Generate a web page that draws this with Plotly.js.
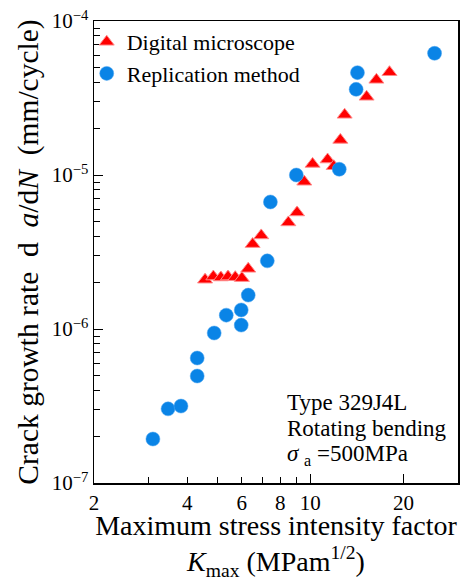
<!DOCTYPE html>
<html><head><meta charset="utf-8">
<script src="https://cdn.plot.ly/plotly-3.0.1.min.js"></script>
<style>body{margin:0;background:#fff}#c{width:464px;height:581px}</style>
</head><body><div id="c"></div>
<script>
// Digital microscope (triangles)
const digitalK = [4.57, 4.86, 5.14, 5.42, 5.72, 6.01, 6.30, 6.51, 6.94, 8.49, 9.06, 9.56, 10.17, 11.37, 11.9, 12.5, 12.91, 15.2, 16.35, 18.02];
const digitalRate = [2.09e-6, 2.19e-6, 2.16e-6, 2.19e-6, 2.17e-6, 2.14e-6, 2.46e-6, 3.56e-6, 4.05e-6, 4.92e-6, 5.71e-6, 9.04e-6, 1.18e-5, 1.26e-5, 1.14e-5, 1.69e-5, 2.46e-5, 3.22e-5, 4.15e-5, 4.65e-5];
// Replication method (circles)
const replicaK = [3.10, 3.47, 3.82, 4.31, 4.31, 4.89, 5.35, 5.98, 5.98, 6.30, 7.26, 7.43, 9.01, 12.4, 14.06, 14.2, 25.2];
const replicaRate = [1.93e-7, 3.03e-7, 3.16e-7, 4.95e-7, 6.48e-7, 9.42e-7, 1.23e-6, 1.06e-6, 1.33e-6, 1.66e-6, 2.77e-6, 6.68e-6, 1.0e-5, 1.09e-5, 3.60e-5, 4.62e-5, 6.17e-5];

const xTickVals = [2, 4, 6, 8, 10, 20];
const xTickText = ['2', '4', '6', '8', '10', '20'];
const xMinorVals = [3, 5, 7, 9];
const xLongTicks = [10, 20];
const yTickVals = [1e-7, 1e-6, 1e-5, 1e-4];
const yTickText = ['10<sup>\u22127</sup>', '10<sup>\u22126</sup>', '10<sup>\u22125</sup>', '10<sup>\u22124</sup>'];
const yMinorVals = [];
[1e-7, 1e-6, 1e-5].forEach(d => { for (let m = 2; m <= 9; m++) yMinorVals.push(m * d); });
const noteLines = ['Type 329J4L', 'Rotating bending', '<i>\u03c3</i> <sub>a</sub> =500MPa'];

const FONT = 'Liberation Serif';

const traces = [
  {x: digitalK, y: digitalRate, mode: 'markers', type: 'scatter', name: 'Digital microscope',
   marker: {symbol: 'triangle-up', size: 13, color: '#ff0000', line: {color: '#ff8a8a', width: 1}}},
  {x: replicaK, y: replicaRate, mode: 'markers', type: 'scatter', name: 'Replication method',
   marker: {symbol: 'circle', size: 14, color: '#0a84e6', line: {color: '#4aa4f0', width: 0.5}}},
  {x: [], y: [], xaxis: 'x2', yaxis: 'y', showlegend: false, hoverinfo: 'skip', type: 'scatter', mode: 'markers'}
];

const xr = [Math.log10(2), Math.log10(30)];
const noteY = [0.205, 0.149, 0.095];
const layout = {
  width: 464, height: 581,
  margin: {l: 94, r: 6, t: 21, b: 98},
  paper_bgcolor: '#fff', plot_bgcolor: '#fff',
  font: {family: FONT, color: '#000', size: 20},
  showlegend: true,
  legend: {x: -0.02, y: 1.0, xanchor: 'left', yanchor: 'top', bgcolor: 'rgba(0,0,0,0)',
           font: {family: FONT, size: 22, color: '#000'}, tracegroupgap: 0, itemsizing: 'trace'},
  xaxis: {type: 'log', range: xr, tickmode: 'array', tickvals: xTickVals, ticktext: xTickText,
          ticks: 'inside', ticklen: 6, tickwidth: 1, tickcolor: '#000',
          showline: true, linecolor: '#000', linewidth: 1.5, mirror: true, showgrid: false, zeroline: false,
          tickfont: {family: FONT, size: 21, color: '#000'},
          minor: {tickmode: 'array', tickvals: xMinorVals, ticks: 'inside', ticklen: 6, tickwidth: 1, tickcolor: '#000', showgrid: false},
          title: {text: 'Maximum stress intensity factor<br><i>K</i><sub>max</sub> (MPam<sup>1/2</sup>)', font: {family: FONT, size: 28, color: '#000'}, standoff: 7}},
  xaxis2: {type: 'log', range: xr, overlaying: 'x', anchor: 'y', tickmode: 'array', tickvals: xLongTicks,
           ticks: 'inside', ticklen: 9, tickwidth: 1, tickcolor: '#000', showticklabels: false,
           showline: false, showgrid: false, zeroline: false},
  yaxis: {type: 'log', range: [-7, -4], tickmode: 'array', tickvals: yTickVals, ticktext: yTickText,
          ticks: 'inside', ticklen: 9, tickwidth: 1, tickcolor: '#000',
          showline: true, linecolor: '#000', linewidth: 1.5, mirror: true, showgrid: false, zeroline: false,
          tickfont: {family: FONT, size: 21, color: '#000'},
          minor: {tickmode: 'array', tickvals: yMinorVals, ticks: 'inside', ticklen: 6, tickwidth: 1, tickcolor: '#000', showgrid: false},
          title: {text: 'Crack growth rate \u00a0d\u00a0 <i>a</i>/d<i>N</i> \u00a0(mm/cycle)', font: {family: FONT, size: 29.5, color: '#000'}, standoff: 4}},
  annotations: noteLines.map((t, i) => ({
    xref: 'paper', yref: 'paper', x: 0.525, y: noteY[i], xanchor: 'left', yanchor: 'top', align: 'left', showarrow: false,
    text: t, font: {family: FONT, size: 23, color: '#000'}}))
};

Plotly.newPlot('c', traces, layout, {displayModeBar: false, staticPlot: true});
</script></body></html>
